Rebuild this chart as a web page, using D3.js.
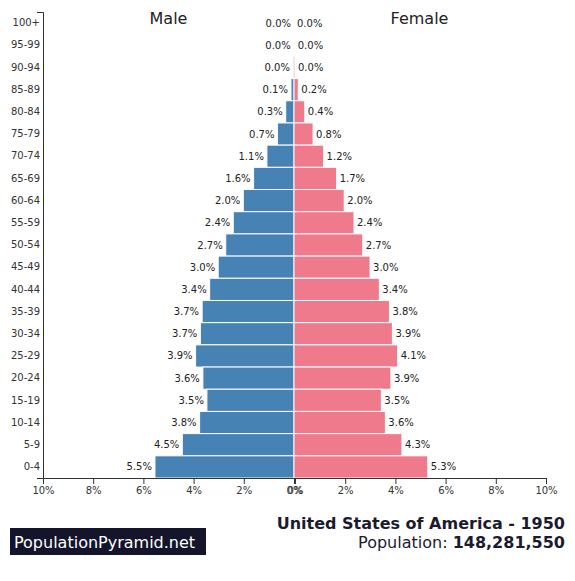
<!DOCTYPE html>
<html>
<head>
<meta charset="utf-8">
<script src="https://cdn.jsdelivr.net/npm/d3@7"></script>
<style>
  body { margin: 0; background: #fff; }
  svg { font-family: "DejaVu Sans", sans-serif; }
  .axis text { font-family: "DejaVu Sans", sans-serif; font-size: 10px; fill: #333; }
  .axis path, .axis line { stroke: #333; }
</style>
</head>
<body>
<svg width="575" height="581"></svg>
<script>
// Age groups, top to bottom
var ageGroups = ["100+", "95-99", "90-94", "85-89", "80-84", "75-79", "70-74", "65-69",
  "60-64", "55-59", "50-54", "45-49", "40-44", "35-39", "30-34", "25-29",
  "20-24", "15-19", "10-14", "5-9", "0-4"];

// Share of total population (%)
var maleValues = [0.00, 0.01, 0.04, 0.12, 0.33, 0.66, 1.08, 1.61, 2.02, 2.42,
  2.72, 3.02, 3.36, 3.66, 3.73, 3.92, 3.63, 3.47, 3.76, 4.45, 5.54];
var femaleValues = [0.00, 0.03, 0.04, 0.17, 0.43, 0.76, 1.18, 1.70, 2.00, 2.39,
  2.74, 3.03, 3.40, 3.80, 3.92, 4.13, 3.86, 3.48, 3.64, 4.30, 5.33];

var xTicks = [0, 2, 4, 6, 8, 10];
var countryTitle = "United States of America - 1950";
var populationText = "148,281,550";

var svg = d3.select("svg");

// plot edges
var plotLeft = 43, plotCenter = 294, plotRight = 545, plotTop = 12, plotBottom = 478;

// Scales for each half
var xMale = d3.scaleLinear().domain([10, 0]).range([plotLeft, plotCenter]);
var xFemale = d3.scaleLinear().domain([0, 10]).range([plotCenter, plotRight]);
var y = d3.scaleBand().domain(ageGroups).range([plotTop, plotBottom]).padding(0);

var pct = function(d) { return d + "%"; };

// Male bars
svg.append("g").selectAll("rect")
  .data(maleValues)
  .enter().append("rect")
  .attr("x", function(d) { return xMale(d); })
  .attr("y", function(d, i) { return y(ageGroups[i]); })
  .attr("width", function(d) { return plotCenter - xMale(d); })
  .attr("height", y.bandwidth())
  .attr("fill", "#4682b4")
  .attr("stroke", "#fff")
  .attr("stroke-width", 1);

// Female bars
svg.append("g").selectAll("rect")
  .data(femaleValues)
  .enter().append("rect")
  .attr("x", plotCenter)
  .attr("y", function(d, i) { return y(ageGroups[i]); })
  .attr("width", function(d) { return xFemale(d) - plotCenter; })
  .attr("height", y.bandwidth())
  .attr("fill", "#ef7a8b")
  .attr("stroke", "#fff")
  .attr("stroke-width", 1);

// Value labels
svg.append("g").selectAll("text")
  .data(maleValues)
  .enter().append("text")
  .attr("x", function(d) { return xMale(d) - 3; })
  .attr("y", function(d, i) { return y(ageGroups[i]) + y.bandwidth() / 2; })
  .attr("dy", "0.35em")
  .attr("text-anchor", "end")
  .attr("font-size", 10)
  .attr("fill", "#222")
  .text(function(d) { return d.toFixed(1) + "%"; });

svg.append("g").selectAll("text")
  .data(femaleValues)
  .enter().append("text")
  .attr("x", function(d) { return xFemale(d) + 3; })
  .attr("y", function(d, i) { return y(ageGroups[i]) + y.bandwidth() / 2; })
  .attr("dy", "0.35em")
  .attr("font-size", 10)
  .attr("fill", "#222")
  .text(function(d) { return d.toFixed(1) + "%"; });

// Axes
svg.append("g")
  .attr("class", "axis")
  .attr("transform", "translate(0," + plotBottom + ")")
  .call(d3.axisBottom(xMale).tickValues(xTicks).tickFormat(pct).tickSize(6));

svg.append("g")
  .attr("class", "axis")
  .attr("transform", "translate(1," + plotBottom + ")")
  .call(d3.axisBottom(xFemale).tickValues(xTicks).tickFormat(pct).tickSize(6));

svg.append("g")
  .attr("class", "axis")
  .attr("transform", "translate(" + plotLeft + ",0)")
  .call(d3.axisLeft(y).tickSize(0).tickSizeOuter(6).tickPadding(3));

// Side titles
svg.append("text")
  .attr("x", (plotLeft + plotCenter) / 2).attr("y", 24)
  .attr("text-anchor", "middle").attr("font-size", 16).attr("fill", "#222")
  .text("Male");
svg.append("text")
  .attr("x", (plotCenter + plotRight) / 2).attr("y", 24)
  .attr("text-anchor", "middle").attr("font-size", 16).attr("fill", "#222")
  .text("Female");

// Country and population
svg.append("text")
  .attr("x", 565).attr("y", 529)
  .attr("text-anchor", "end").attr("font-size", 16).attr("font-weight", "bold")
  .attr("fill", "#1b1b2f")
  .text(countryTitle);

var pop = svg.append("text")
  .attr("x", 565).attr("y", 548)
  .attr("text-anchor", "end").attr("font-size", 16)
  .attr("fill", "#1b1b2f");
pop.append("tspan").text("Population: ");
pop.append("tspan").attr("font-weight", "bold").text(populationText);

// Logo box
svg.append("rect")
  .attr("x", 10).attr("y", 528).attr("width", 196).attr("height", 27)
  .attr("fill", "#14142b");
svg.append("text")
  .attr("x", 14).attr("y", 548)
  .attr("font-size", 16).attr("fill", "#fff")
  .text("PopulationPyramid.net");
</script>
</body>
</html>
